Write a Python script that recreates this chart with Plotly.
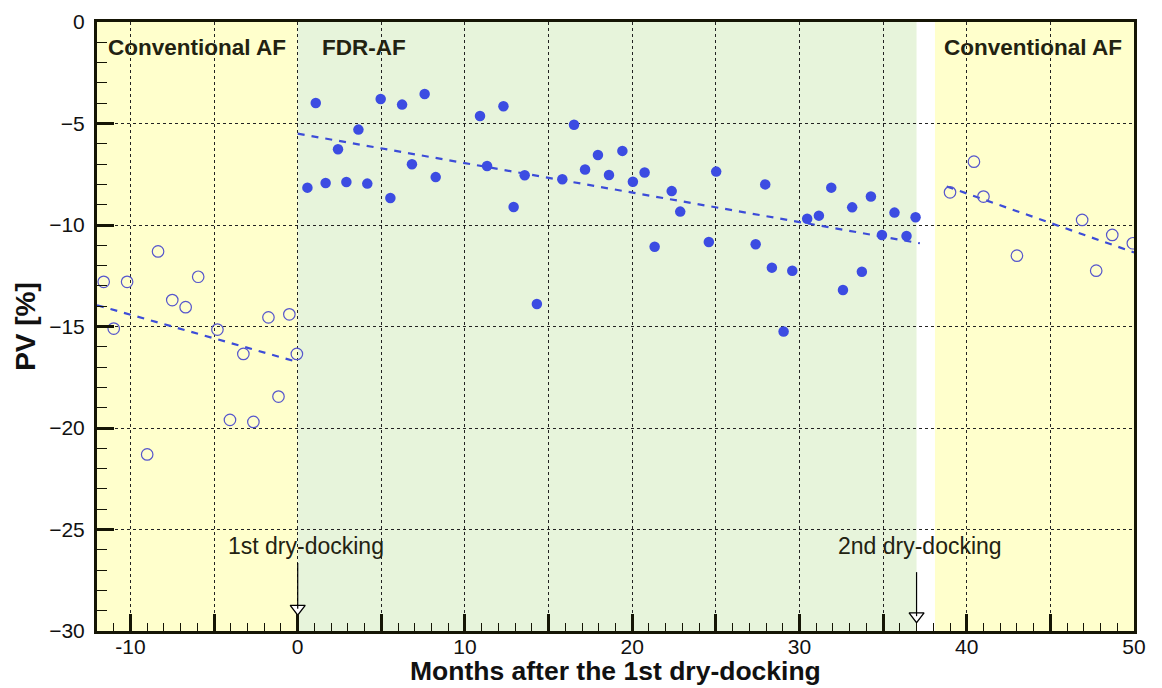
import plotly.graph_objects as go

# ---- data ----
conv_before_x = [-11.6, -11.0, -10.2, -9.0, -8.35, -7.5, -6.7, -5.95, -4.8, -4.05,
                 -3.25, -2.65, -1.75, -1.15, -0.5, -0.05]
conv_before_y = [-12.8, -15.1, -12.8, -21.3, -11.3, -13.7, -14.05, -12.55, -15.15, -19.6,
                 -16.35, -19.7, -14.55, -18.45, -14.4, -16.35]

fdr_x = [0.58, 1.08, 1.67, 2.41, 2.91, 3.63, 4.16, 4.96, 5.54, 6.24, 6.83, 7.59, 8.25,
         10.9, 11.32, 12.3, 12.91, 13.57, 14.3, 15.82, 16.52, 17.18, 17.95, 18.61, 19.41,
         20.04, 20.74, 21.34, 22.36, 22.87, 24.58, 25.02, 27.38, 27.95, 28.35, 29.05,
         29.57, 30.46, 31.16, 31.9, 32.6, 33.15, 33.73, 34.27, 34.93, 35.68, 36.4, 36.94]
fdr_y = [-8.16, -3.99, -7.93, -6.27, -7.88, -5.30, -7.96, -3.79, -8.67, -4.07, -7.01,
         -3.55, -7.64, -4.63, -7.09, -4.15, -9.11, -7.55, -13.89, -7.75, -5.06, -7.27,
         -6.55, -7.54, -6.35, -7.87, -7.41, -11.07, -8.33, -9.34, -10.84, -7.37, -10.95,
         -8.0, -12.10, -15.25, -12.25, -9.69, -9.54, -8.16, -13.2, -9.13, -12.3, -8.6,
         -10.49, -9.39, -10.54, -9.62]

conv_after_x = [39.0, 40.43, 41.0, 43.0, 46.9, 47.74, 48.7, 49.93]
conv_after_y = [-8.39, -6.88, -8.6, -11.51, -9.75, -12.25, -10.49, -10.9]

trend_before_x = [-12, 0]
trend_before_y = [-13.95, -16.75]
trend_fdr_x = [0, 37.2]
trend_fdr_y = [-5.5, -10.9]
trend_after_x = [38.8, 50]
trend_after_y = [-8.1, -11.35]

# periods (x ranges)
conv1_period = [-12, 0]
fdr_period = [0, 37.0]
conv2_period = [38.1, 50]
dock_x = [0, 37.0]
dock_labels = ["1st dry-docking", "2nd dry-docking"]

x_major = list(range(-10, 51, 5))
x_text = [str(v) if v % 10 == 0 else "" for v in x_major]
y_major = list(range(-30, 1, 5))

FILL_BLUE = "#3C4CE2"
OPEN_BLUE = "#5656CC"
LINE_BLUE = "#3C4CD8"
TXT = "#222211"
FONT = "Liberation Sans, Arial, sans-serif"

fig = go.Figure()

for tx, ty in [(trend_before_x, trend_before_y), (trend_fdr_x, trend_fdr_y), (trend_after_x, trend_after_y)]:
    fig.add_trace(go.Scatter(x=tx, y=ty, mode="lines",
                             line=dict(color=LINE_BLUE, width=2.2, dash="7px,7px"), showlegend=False))

fig.add_trace(go.Scatter(x=conv_before_x, y=conv_before_y, mode="markers",
                         marker=dict(symbol="circle-open", size=11.5, color=OPEN_BLUE,
                                     line=dict(width=1.2, color=OPEN_BLUE)), showlegend=False))
fig.add_trace(go.Scatter(x=conv_after_x, y=conv_after_y, mode="markers",
                         marker=dict(symbol="circle-open", size=11.5, color=OPEN_BLUE,
                                     line=dict(width=1.2, color=OPEN_BLUE)), showlegend=False))
fig.add_trace(go.Scatter(x=fdr_x, y=fdr_y, mode="markers",
                         marker=dict(symbol="circle", size=10.5, color=FILL_BLUE), showlegend=False))

# background period shading
for (x0, x1), col in [(conv1_period, "#FFFFCC"), (fdr_period, "#E7F4DB"), (conv2_period, "#FFFFCC")]:
    fig.add_shape(type="rect", xref="x", yref="y", x0=x0, x1=x1, y0=-30, y1=0,
                  fillcolor=col, line=dict(width=0), layer="below")

# dry-docking arrows
line_tops = [-26.65, -27.1]
tri_y = [-28.9, -29.27]
for xd, yt, ty in zip(dock_x, line_tops, tri_y):
    fig.add_shape(type="line", xref="x", yref="y", x0=xd, x1=xd, y0=yt, y1=ty,
                  line=dict(color="black", width=1.2))
fig.add_trace(go.Scatter(x=dock_x, y=tri_y, mode="markers",
                         marker=dict(symbol="triangle-down", size=13, color="white",
                                     line=dict(color="black", width=1.3)),
                         showlegend=False, cliponaxis=False))

# text annotations
for xa, lab in [(-11.48, "Conventional AF"), (1.31, "FDR-AF"), (38.55, "Conventional AF")]:
    fig.add_annotation(x=xa, y=-1.28, text="<b>" + lab + "</b>", showarrow=False,
                       xanchor="left", yanchor="middle", font=dict(size=22.5, color=TXT, family=FONT))
for xd, lab in zip([0.48, 37.2], dock_labels):
    fig.add_annotation(x=xd, y=-25.8, text=lab, showarrow=False, xanchor="center",
                       yanchor="middle", font=dict(size=23, color=TXT, family=FONT))

# x-axis title (placed as paper annotation to match tight spacing)
fig.add_annotation(xref="paper", yref="paper", x=0.5, y=-0.066,
                   text="<b>Months after the 1st dry-docking</b>", showarrow=False,
                   xanchor="center", yanchor="middle",
                   font=dict(size=26.5, color="#111111", family=FONT))

axis_common = dict(showline=True, linewidth=3, linecolor="#151505", mirror=True,
                   ticks="inside", tickwidth=3, ticklen=17, tickcolor="#151505",
                   showgrid=True, gridcolor="#222222", gridwidth=1.4, griddash="3px,3px",
                   zeroline=False, automargin=False,
                   tickfont=dict(size=21, color="#111111", family=FONT))

fig.update_xaxes(range=[-12, 50], tickmode="array", tickvals=x_major, ticktext=x_text,
                 ticklabelstandoff=-5,
                 minor=dict(tick0=0, dtick=1, ticks="inside", ticklen=8, tickwidth=1,
                            tickcolor="#151505", showgrid=False),
                 **axis_common)
fig.update_yaxes(range=[-30, 0], tickmode="array", tickvals=y_major,
                 minor=dict(tick0=0, dtick=1, ticks="inside", ticklen=10, tickwidth=1,
                            tickcolor="#151505", showgrid=False),
                 ticklabelstandoff=5,
                 title=dict(text="<b>PV [%]</b>", standoff=6,
                            font=dict(size=28, color="#111111", family=FONT)),
                 **axis_common)

fig.update_layout(width=1162, height=688, margin=dict(l=97, r=28, t=22, b=57),
                  paper_bgcolor="white", plot_bgcolor="white", showlegend=False)

fig.write_html("out.html")
